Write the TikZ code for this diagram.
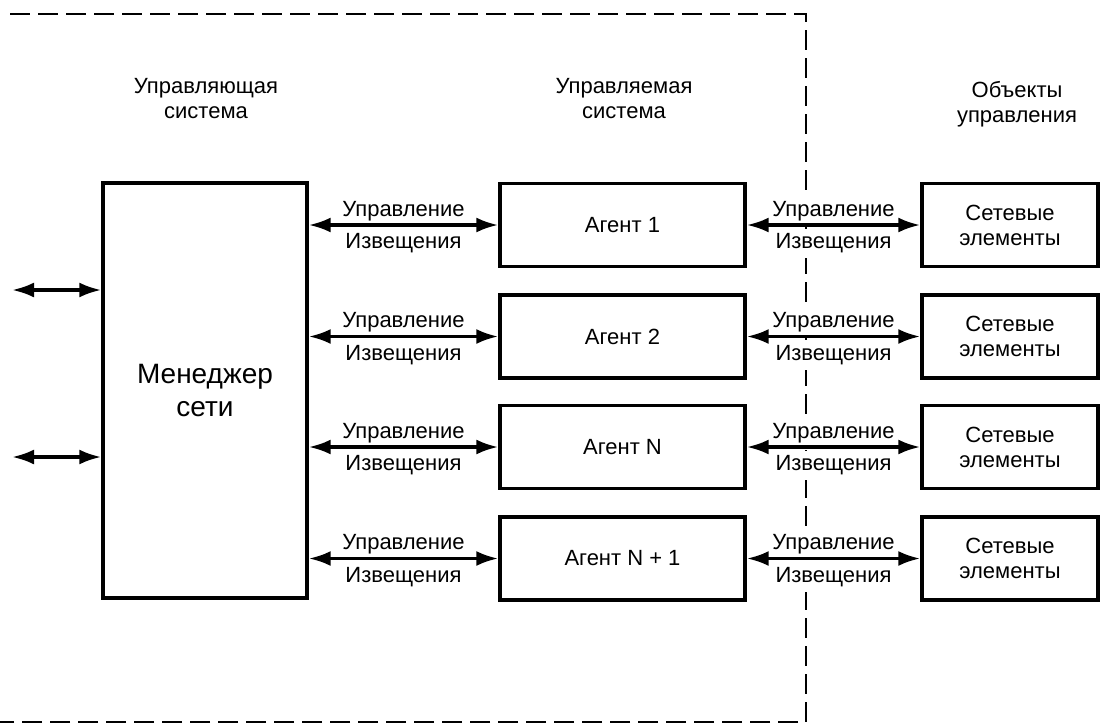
\documentclass[tikz,border=0pt]{standalone}
\usepackage{fontspec}
\setmainfont{Liberation Sans}
\usetikzlibrary{arrows.meta}
\begin{document}
\begin{tikzpicture}[x=1pt,y=-1pt,font=\fontsize{22}{25}\selectfont,align=center]
  \tikzstyle{bloc}=[rectangle,draw,line width=3.4pt]
  \tikzstyle{agent}=[bloc,minimum width=245pt,minimum height=83pt]
  \tikzstyle{objet}=[bloc,minimum width=176pt,minimum height=83pt]
  \tikzset{fleche/.style = {{Latex[length=22pt,width=15pt]}-{Latex[length=22pt,width=15pt]},line width=3.4pt}}
  \tikzset{lbl/.style = {fill=white,inner xsep=2pt,inner ysep=5pt,behind path}}
  \useasboundingbox (0,0) rectangle (1100,726);
  % frame of the managed side
  \draw[dash pattern=on 20pt off 8pt,line width=2.2pt] (10,14) -- (806,14) -- (806,722) -- (0,722);
  % headers
  \node (hctl) at (206,99) {Управляющая\\система};
  \node (hsys) at (624,99) {Управляемая\\система};
  \node (hobj) at (1017,104) {Объекты\\управления};
  % blocks
  \node[bloc,minimum width=204pt,minimum height=415pt,font=\fontsize{28}{33}\selectfont] (mgr) at (205,390.5) {Менеджер\\сети};
  \node[agent] (a1) at (622.5,225) {Агент 1};
  \node[agent] (a2) at (622.5,336.5) {Агент 2};
  \node[agent] (a3) at (622.5,447) {Агент N};
  \node[agent] (a4) at (622.5,558.5) {Агент N + 1};
  \node[objet] (o1) at (1010,225) {Сетевые\\элементы};
  \node[objet] (o2) at (1010,336.5) {Сетевые\\элементы};
  \node[objet] (o3) at (1010,447) {Сетевые\\элементы};
  \node[objet] (o4) at (1010,558.5) {Сетевые\\элементы};
  \coordinate (e1) at (12,290);
  \coordinate (e2) at (12,457);
  % links
  \draw[fleche] (e1) -- (e1 -| mgr.west);
  \draw[fleche] (e2) -- (e2 -| mgr.west);
  \draw[fleche] (a1 -| mgr.east) -- node[lbl,above=-2.6pt] (u1) {Управление} node[lbl,below=2pt] (i1) {Извещения} (a1.west);
  \draw[fleche] (a2 -| mgr.east) -- node[lbl,above=-2.6pt] (u2) {Управление} node[lbl,below=2pt] (i2) {Извещения} (a2.west);
  \draw[fleche] (a3 -| mgr.east) -- node[lbl,above=-2.6pt] (u3) {Управление} node[lbl,below=2pt] (i3) {Извещения} (a3.west);
  \draw[fleche] (a4 -| mgr.east) -- node[lbl,above=-2.6pt] (u4) {Управление} node[lbl,below=2pt] (i4) {Извещения} (a4.west);
  \draw[fleche] (a1.east) -- node[lbl,above=-2.6pt] (v1) {Управление} node[lbl,below=2pt] (j1) {Извещения} (o1.west);
  \draw[fleche] (a2.east) -- node[lbl,above=-2.6pt] (v2) {Управление} node[lbl,below=2pt] (j2) {Извещения} (o2.west);
  \draw[fleche] (a3.east) -- node[lbl,above=-2.6pt] (v3) {Управление} node[lbl,below=2pt] (j3) {Извещения} (o3.west);
  \draw[fleche] (a4.east) -- node[lbl,above=-2.6pt] (v4) {Управление} node[lbl,below=2pt] (j4) {Извещения} (o4.west);
\end{tikzpicture}
\end{document}
